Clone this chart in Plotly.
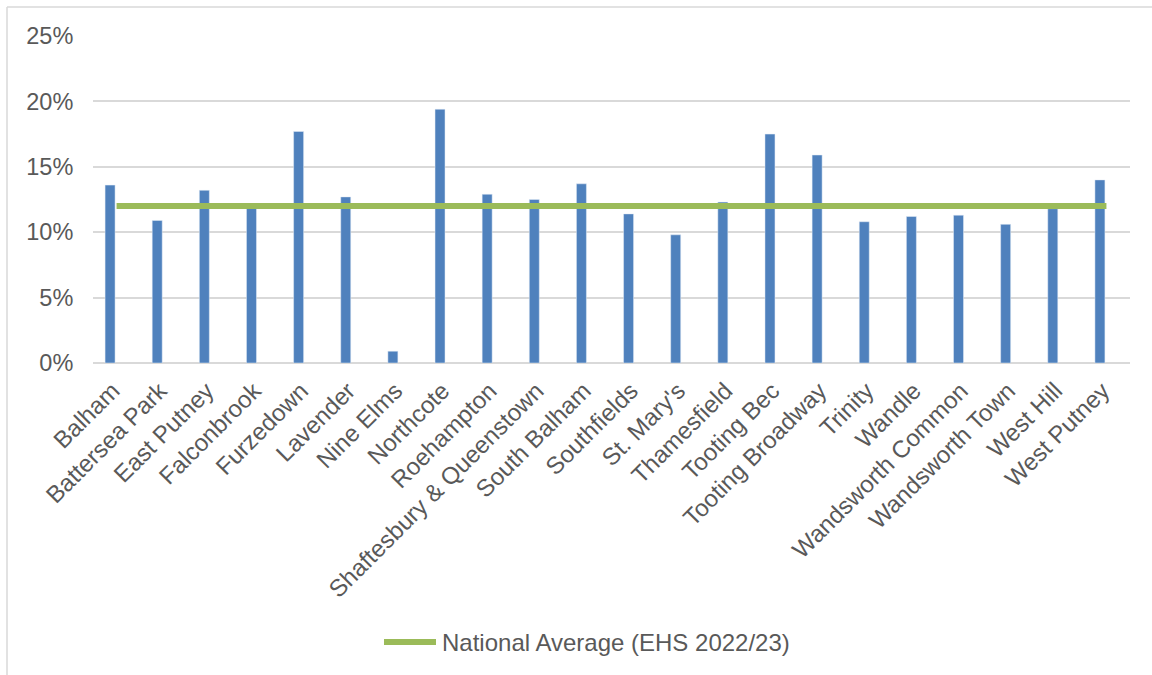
import plotly.graph_objects as go

# Ward names and share of households (fraction)
wards = [
    "Balham", "Battersea Park", "East Putney", "Falconbrook", "Furzedown",
    "Lavender", "Nine Elms", "Northcote", "Roehampton", "Shaftesbury & Queenstown",
    "South Balham", "Southfields", "St. Mary's", "Thamesfield", "Tooting Bec",
    "Tooting Broadway", "Trinity", "Wandle", "Wandsworth Common", "Wandsworth Town",
    "West Hill", "West Putney",
]
ward_values = [
    0.136, 0.109, 0.132, 0.119, 0.177,
    0.127, 0.009, 0.194, 0.129, 0.125,
    0.137, 0.114, 0.098, 0.123, 0.175,
    0.159, 0.108, 0.112, 0.113, 0.106,
    0.118, 0.140,
]
national_average = 0.12
national_label = "National Average (EHS 2022/23)"
y_ticks = [0, 0.05, 0.10, 0.15, 0.20, 0.25]

W, H = 1152, 675
L, R, T, B = 93, 22, 36, 312
PW, PH = W - L - R, H - T - B

def px_x(px):
    return (px - L) / PW

def px_y(py):
    return (H - B - py) / PH

FONT = "Liberation Sans, Arial, sans-serif"
TXT = "#595959"
GRID = "#D9D9D9"
BAR = "#4F81BD"
LINE = "#9BBB59"

fig = go.Figure()
# bars sit slightly left of each category centre
fig.add_trace(go.Bar(
    x=wards, y=ward_values, marker_color=BAR, width=0.212, offset=-0.244,
    showlegend=False, name="Wards",
))
fig.add_trace(go.Scatter(
    x=wards, y=[national_average] * len(wards), mode="lines",
    line=dict(color=LINE, width=6), name=national_label, showlegend=False,
))

shapes = [
    # chart frame (left and top edges)
    dict(type="line", xref="paper", yref="paper", x0=px_x(7), x1=px_x(7),
         y0=px_y(7), y1=px_y(H + 5), line=dict(color=GRID, width=1.5)),
    dict(type="line", xref="paper", yref="paper", x0=px_x(7), x1=px_x(W + 5),
         y0=px_y(7), y1=px_y(7), line=dict(color=GRID, width=1.5)),
    # legend sample
    dict(type="line", xref="paper", yref="paper", x0=px_x(384), x1=px_x(436),
         y0=px_y(642), y1=px_y(642), line=dict(color=LINE, width=6)),
]
annotations = [
    dict(text=national_label, xref="paper", yref="paper", x=px_x(440), y=px_y(642),
         xanchor="left", yanchor="middle", showarrow=False,
         font=dict(family=FONT, size=24, color=TXT)),
]

fig.update_layout(
    width=W, height=H,
    margin=dict(l=L, r=R, t=T, b=B),
    paper_bgcolor="white", plot_bgcolor="white",
    font=dict(family=FONT, size=24, color=TXT),
    shapes=shapes, annotations=annotations,
    showlegend=False,
)
fig.update_xaxes(
    tickangle=-45, showgrid=False, showline=False, ticks="",
    ticklabelstandoff=8, ticklabelshift=-4,
    tickfont=dict(family=FONT, size=24, color=TXT),
)
fig.update_yaxes(
    range=[0, 0.25], tickvals=y_ticks, tickformat=".0%",
    showgrid=True, gridcolor=GRID, gridwidth=1.5,
    zeroline=True, zerolinecolor=GRID, zerolinewidth=1.5,
    ticks="outside", ticklen=14, tickcolor="rgba(0,0,0,0)",
    tickfont=dict(family=FONT, size=23.5, color=TXT),
)

fig.write_html("out.html")
